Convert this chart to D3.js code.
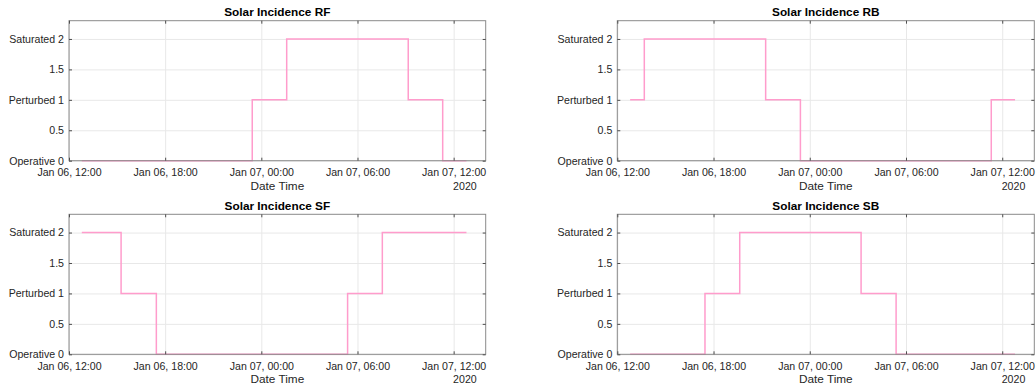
<!DOCTYPE html>
<html>
<head>
<meta charset="utf-8">
<script src="https://cdn.jsdelivr.net/npm/d3@7"></script>
<style>
  html, body { margin: 0; padding: 0; background: #fff; }
  svg { display: block; font-family: "Liberation Sans", Arial, Helvetica, sans-serif; }
</style>
</head>
<body>
<svg id="chart" width="1036" height="391"></svg>
<script>
// Solar incidence state per face over one day (0 = Operative, 1 = Perturbed, 2 = Saturated)
const panelTitles = ["Solar Incidence RF", "Solar Incidence RB", "Solar Incidence SF", "Solar Incidence SB"];

// Transition times (state holds from each time until the next one)
const rfTimes  = ["2020-01-06T12:48", "2020-01-06T23:26", "2020-01-07T01:35", "2020-01-07T09:10", "2020-01-07T11:19", "2020-01-07T12:48"];
const rfStates = [0, 1, 2, 1, 0, 0];

const rbTimes  = ["2020-01-06T12:48", "2020-01-06T13:41", "2020-01-06T21:15", "2020-01-06T23:25", "2020-01-07T11:19", "2020-01-07T12:48"];
const rbStates = [1, 2, 1, 0, 1, 1];

const sfTimes  = ["2020-01-06T12:48", "2020-01-06T15:15", "2020-01-06T17:27", "2020-01-07T05:23", "2020-01-07T07:33", "2020-01-07T12:48"];
const sfStates = [2, 1, 0, 1, 2, 2];

const sbTimes  = ["2020-01-06T12:48", "2020-01-06T17:28", "2020-01-06T19:38", "2020-01-07T03:12", "2020-01-07T05:23", "2020-01-07T12:48"];
const sbStates = [0, 1, 2, 1, 0, 0];

const xTicks = ["2020-01-06T12:00", "2020-01-06T18:00", "2020-01-07T00:00", "2020-01-07T06:00", "2020-01-07T12:00"];
const xDomain = ["2020-01-06T12:00", "2020-01-07T14:00"];
const yTicks = [0, 0.5, 1, 1.5, 2];
const yTickLabels = ["Operative 0", "0.5", "Perturbed 1", "1.5", "Saturated 2"];
const yDomain = [0, 2.3];
const xAxisLabel = "Date Time";
const yearLabel = "2020";

const parse = d3.timeParse("%Y-%m-%dT%H:%M");
const fmt = d3.timeFormat("%b %d, %H:%M");

const series = [
  { times: rfTimes, states: rfStates },
  { times: rbTimes, states: rbStates },
  { times: sfTimes, states: sfStates },
  { times: sbTimes, states: sbStates }
];

// Plot-area boxes for the 2x2 grid
const boxes = [
  { x0: 69,    x1: 485.7,  y0: 20.7,  y1: 160.7 },
  { x0: 617.3, x1: 1034.3, y0: 20.7,  y1: 160.7 },
  { x0: 69,    x1: 485.7,  y0: 214.3, y1: 354.3 },
  { x0: 617.3, x1: 1034.3, y0: 214.3, y1: 354.3 }
];

const svg = d3.select("#chart");
const textColor = "#262626";
const boxColor = "#8a8a8a";
const gridColor = "#e8e8e8";
const lineColor = "#ff9ccc";
const fontSize = 10.6;
const tickLen = 3;

boxes.forEach((b, i) => {
  const x = d3.scaleTime().domain(xDomain.map(parse)).range([b.x0, b.x1]);
  const y = d3.scaleLinear().domain(yDomain).range([b.y1, b.y0]);
  const g = svg.append("g");
  const w = b.x1 - b.x0, h = b.y1 - b.y0;

  // grid
  g.append("g")
    .attr("transform", `translate(0,${b.y1})`)
    .call(d3.axisBottom(x).tickValues(xTicks.map(parse)).tickSize(-h).tickFormat(""))
    .call(s => s.select(".domain").remove())
    .call(s => s.selectAll("line").attr("stroke", gridColor).attr("stroke-width", 1));
  g.append("g")
    .attr("transform", `translate(${b.x0},0)`)
    .call(d3.axisLeft(y).tickValues(yTicks).tickSize(-w).tickFormat(""))
    .call(s => s.select(".domain").remove())
    .call(s => s.selectAll("line").attr("stroke", gridColor).attr("stroke-width", 1));

  // data line (stepped)
  const pts = series[i].times.map((t, k) => ({ t: parse(t), v: series[i].states[k] }));
  g.append("path")
    .datum(pts)
    .attr("fill", "none")
    .attr("stroke", lineColor)
    .attr("stroke-width", 1.5)
    .attr("d", d3.line().x(d => x(d.t)).y(d => y(d.v)).curve(d3.curveStepAfter));

  // box outline
  g.append("rect")
    .attr("x", b.x0).attr("y", b.y0).attr("width", w).attr("height", h)
    .attr("fill", "none").attr("stroke", boxColor).attr("stroke-width", 1);

  // axes with inward ticks on all sides
  const styleAxis = s => {
    s.select(".domain").remove();
    s.selectAll("line").attr("stroke", "#4d4d4d");
    s.selectAll("text").attr("fill", textColor).attr("font-size", fontSize)
      .attr("font-family", "Liberation Sans, Arial, sans-serif");
  };
  g.append("g")
    .attr("transform", `translate(0,${b.y1})`)
    .call(d3.axisBottom(x).tickValues(xTicks.map(parse)).tickSize(-tickLen).tickPadding(7.8).tickFormat(fmt))
    .call(styleAxis);
  g.append("g")
    .attr("transform", `translate(0,${b.y0})`)
    .call(d3.axisTop(x).tickValues(xTicks.map(parse)).tickSize(-tickLen).tickFormat(""))
    .call(styleAxis);
  g.append("g")
    .attr("transform", `translate(${b.x0},0)`)
    .call(d3.axisLeft(y).tickValues(yTicks).tickSize(-tickLen).tickPadding(5)
      .tickFormat((d, k) => yTickLabels[k]))
    .call(styleAxis);
  g.append("g")
    .attr("transform", `translate(${b.x1},0)`)
    .call(d3.axisRight(y).tickValues(yTicks).tickSize(-tickLen).tickFormat(""))
    .call(styleAxis);

  // title
  g.append("text")
    .attr("x", (b.x0 + b.x1) / 2).attr("y", b.y0 - 4.4)
    .attr("text-anchor", "middle")
    .attr("font-size", 11.8).attr("font-weight", "bold").attr("fill", "#000")
    .text(panelTitles[i]);

  // x label and year
  g.append("text")
    .attr("x", (b.x0 + b.x1) / 2).attr("y", b.y1 + 29)
    .attr("text-anchor", "middle")
    .attr("font-size", 11.8).attr("fill", textColor)
    .text(xAxisLabel);
  g.append("text")
    .attr("x", b.x1 - 9).attr("y", b.y1 + 29)
    .attr("text-anchor", "end")
    .attr("font-size", fontSize).attr("fill", textColor)
    .text(yearLabel);
});
</script>
</body>
</html>
